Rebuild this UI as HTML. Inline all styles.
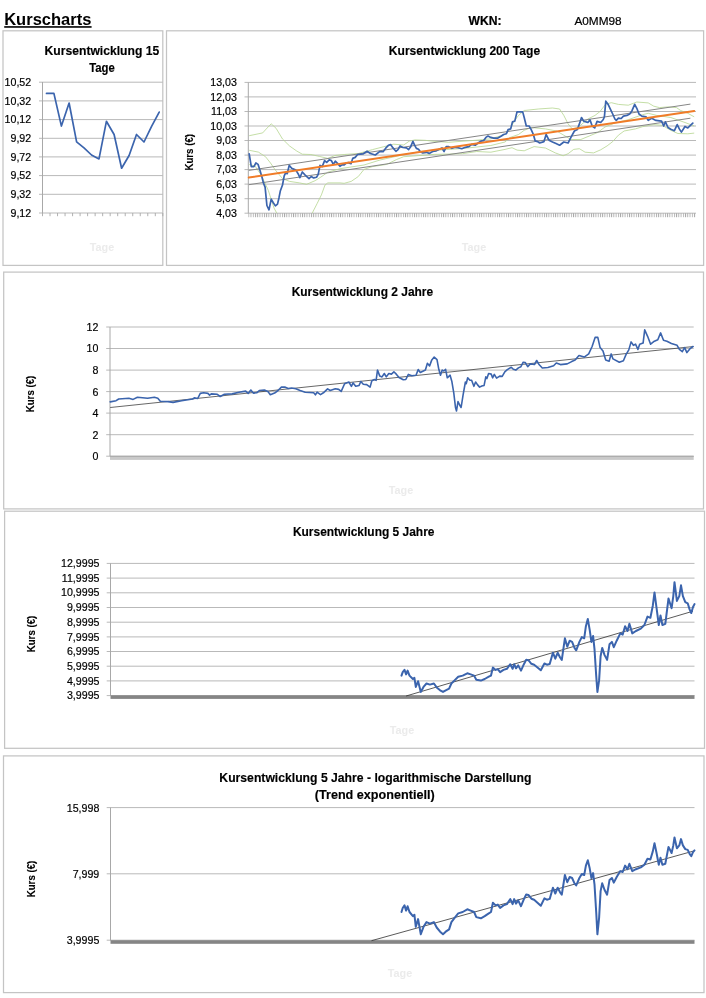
<!DOCTYPE html>
<html><head><meta charset="utf-8"><title>Kurscharts</title>
<style>html,body{margin:0;padding:0;background:#fff}body{width:706px;height:998px;overflow:hidden;font-family:"Liberation Sans",sans-serif}svg{display:block;opacity:0.999}text{font-family:"Liberation Sans",sans-serif;fill:#000}.b{font-weight:bold}.t{font-weight:bold;font-size:12.5px;text-anchor:middle;stroke:#000;stroke-width:0.15px}.l{font-size:10.65px;text-anchor:end;stroke:#000;stroke-width:0.18px}.k{font-weight:bold;font-size:10.7px;text-anchor:middle;stroke:#000;stroke-width:0.12px}.g{font-weight:bold;font-size:10.8px;text-anchor:middle;fill:#ebebeb;filter:url(#bl)}</style></head><body>
<svg width="706" height="998" viewBox="0 0 706 998">
<rect width="706" height="998" fill="#fff"/>
<defs><filter id="bl" x="-20%" y="-50%" width="140%" height="200%"><feGaussianBlur stdDeviation="0.45"/></filter></defs>
<text class="b" x="4.2" y="25.15" font-size="16.5" textLength="87.2" lengthAdjust="spacingAndGlyphs">Kurscharts</text>
<rect x="4.2" y="26.15" width="87.4" height="1.6" fill="#000"/>
<text class="b" x="468.5" y="24.9" font-size="12" textLength="33" lengthAdjust="spacingAndGlyphs" stroke="#000" stroke-width="0.2">WKN:</text>
<text x="574.4" y="24.9" font-size="11.8" stroke="#000" stroke-width="0.2">A0MM98</text>
<rect x="3.0" y="30.8" width="159.8" height="234.6" fill="none" stroke="#c4c4c4" stroke-width="1.25"/>
<rect x="166.5" y="30.8" width="537.1" height="234.6" fill="none" stroke="#c4c4c4" stroke-width="1.25"/>
<rect x="3.7" y="272.1" width="699.8" height="236.8" fill="none" stroke="#c4c4c4" stroke-width="1.25"/>
<rect x="4.6" y="511.2" width="699.9" height="237.1" fill="none" stroke="#c4c4c4" stroke-width="1.25"/>
<rect x="3.5" y="755.9" width="700.5" height="236.7" fill="none" stroke="#c4c4c4" stroke-width="1.25"/>
<line x1="39.0" y1="82.2" x2="162.8" y2="82.2" stroke="#b9b9b9" stroke-width="1"/>
<line x1="39.0" y1="100.9" x2="162.8" y2="100.9" stroke="#b9b9b9" stroke-width="1"/>
<line x1="39.0" y1="119.6" x2="162.8" y2="119.6" stroke="#b9b9b9" stroke-width="1"/>
<line x1="39.0" y1="138.3" x2="162.8" y2="138.3" stroke="#b9b9b9" stroke-width="1"/>
<line x1="39.0" y1="156.9" x2="162.8" y2="156.9" stroke="#b9b9b9" stroke-width="1"/>
<line x1="39.0" y1="175.6" x2="162.8" y2="175.6" stroke="#b9b9b9" stroke-width="1"/>
<line x1="39.0" y1="194.3" x2="162.8" y2="194.3" stroke="#b9b9b9" stroke-width="1"/>
<line x1="39.0" y1="213.0" x2="162.8" y2="213.0" stroke="#b9b9b9" stroke-width="1"/>
<line x1="42.5" y1="82" x2="42.5" y2="213" stroke="#a8a8a8" stroke-width="1"/>
<path d="M42.50 213V216.2M50.02 213V216.2M57.54 213V216.2M65.06 213V216.2M72.58 213V216.2M80.10 213V216.2M87.62 213V216.2M95.14 213V216.2M102.66 213V216.2M110.18 213V216.2M117.70 213V216.2M125.22 213V216.2M132.74 213V216.2M140.26 213V216.2M147.78 213V216.2M155.30 213V216.2M162.82 213V216.2" stroke="#a8a8a8" stroke-width="0.9" fill="none"/>
<text class="l" x="31.2" y="85.8">10,52</text>
<text class="l" x="31.2" y="104.5">10,32</text>
<text class="l" x="31.2" y="123.2">10,12</text>
<text class="l" x="31.2" y="141.9">9,92</text>
<text class="l" x="31.2" y="160.5">9,72</text>
<text class="l" x="31.2" y="179.2">9,52</text>
<text class="l" x="31.2" y="197.9">9,32</text>
<text class="l" x="31.2" y="216.6">9,12</text>
<text class="t" x="101.9" y="55.0" textLength="114.7" lengthAdjust="spacingAndGlyphs">Kursentwicklung 15</text>
<text class="t" x="102" y="72.0" textLength="25.6" lengthAdjust="spacingAndGlyphs">Tage</text>
<polyline points="46.5,93.4 53.9,93.4 61.4,126.1 69.1,103.0 76.6,141.8 84.0,147.8 91.5,155.0 99.0,158.9 106.4,121.3 114.1,134.5 121.6,168.2 129.1,155.5 136.5,134.5 144.0,142.0 151.7,126.1 159.2,112.1" fill="none" stroke="#3b64ad" stroke-width="1.7" stroke-linejoin="round" stroke-linecap="round"/>
<text class="g" x="102" y="251.0">Tage</text>
<line x1="244.5" y1="82.4" x2="696.0" y2="82.4" stroke="#b9b9b9" stroke-width="1"/>
<line x1="244.5" y1="96.9" x2="696.0" y2="96.9" stroke="#b9b9b9" stroke-width="1"/>
<line x1="244.5" y1="111.5" x2="696.0" y2="111.5" stroke="#b9b9b9" stroke-width="1"/>
<line x1="244.5" y1="126.0" x2="696.0" y2="126.0" stroke="#b9b9b9" stroke-width="1"/>
<line x1="244.5" y1="140.5" x2="696.0" y2="140.5" stroke="#b9b9b9" stroke-width="1"/>
<line x1="244.5" y1="155.1" x2="696.0" y2="155.1" stroke="#b9b9b9" stroke-width="1"/>
<line x1="244.5" y1="169.6" x2="696.0" y2="169.6" stroke="#b9b9b9" stroke-width="1"/>
<line x1="244.5" y1="184.1" x2="696.0" y2="184.1" stroke="#b9b9b9" stroke-width="1"/>
<line x1="244.5" y1="198.7" x2="696.0" y2="198.7" stroke="#b9b9b9" stroke-width="1"/>
<line x1="244.5" y1="213.2" x2="696.0" y2="213.2" stroke="#b9b9b9" stroke-width="1"/>
<line x1="248.3" y1="82.4" x2="248.3" y2="213.2" stroke="#a8a8a8" stroke-width="1"/>
<defs><pattern id="tk2" x="248.3" y="0" width="2.24" height="4" patternUnits="userSpaceOnUse"><rect x="0" y="0" width="0.9" height="4" fill="#a8a8a8"/></pattern>
<pattern id="tk3" x="110" y="0" width="1.17" height="4" patternUnits="userSpaceOnUse"><rect x="0" y="0" width="0.6" height="4" fill="#9c9c9c"/></pattern>
<clipPath id="cp2"><rect x="248.3" y="82.4" width="447.7" height="130.8"/></clipPath></defs>
<rect x="248.3" y="213.2" width="447.7" height="4" fill="url(#tk2)"/>
<text class="l" x="236.9" y="86.0">13,03</text>
<text class="l" x="236.9" y="100.5">12,03</text>
<text class="l" x="236.9" y="115.1">11,03</text>
<text class="l" x="236.9" y="129.6">10,03</text>
<text class="l" x="236.9" y="144.1">9,03</text>
<text class="l" x="236.9" y="158.7">8,03</text>
<text class="l" x="236.9" y="173.2">7,03</text>
<text class="l" x="236.9" y="187.7">6,03</text>
<text class="l" x="236.9" y="202.3">5,03</text>
<text class="l" x="236.9" y="216.8">4,03</text>
<text class="k" transform="translate(192.8,152.3) rotate(-90)" textLength="36.6" lengthAdjust="spacingAndGlyphs">Kurs (€)</text>
<text class="t" x="464.5" y="55.0" textLength="151.3" lengthAdjust="spacingAndGlyphs">Kursentwicklung 200 Tage</text>
<g clip-path="url(#cp2)" fill="none" stroke-linejoin="round">
<polyline points="249.2,135.7 262.7,132.9 266.2,129.0 271.2,123.8 276.1,128.3 282.5,139.0 289.6,146.0 296.7,151.0 302.3,154.2 310.8,154.5 319.3,156.4 327.8,158.4 335.0,155.5 344.2,154.5 358.3,153.5 372.5,149.6 383.8,146.7 393.7,144.2 403.7,145.0 409.3,141.1 415.0,139.9 425.0,140.3 434.0,141.3 448.3,142.3 476.7,140.2 490.8,138.8 505.0,134.5 510.0,129.5 514.2,121.1 518.5,115.4 524.2,110.5 538.3,109.0 552.5,108.0 559.6,109.0 563.8,115.4 568.1,123.9 572.3,128.9 578.0,127.5 587.9,119.0 595.0,115.4 600.0,111.5 605.7,104.1 611.3,102.7 618.4,104.4 628.3,105.2 636.8,102.0 648.2,102.9 653.8,106.2 659.5,107.6 668.0,106.9 676.5,107.6 680.7,110.5 687.8,113.3 694.2,116.8" stroke="#b5d68f" stroke-width="0.8"/>
<polyline points="249.2,150.3 258.4,152.1 265.5,156.7 270.5,163.0 275.4,170.1 282.5,178.6 289.6,181.4 299.5,182.9 306.6,184.3 315.1,180.7 320.7,177.2 327.8,172.2 340.0,168.7 364.0,165.0 380.0,160.0 400.0,155.5 420.0,151.5 440.0,150.0 462.5,148.5 476.7,147.0 490.8,145.5 505.0,142.0 510.0,137.5 518.5,134.5 524.2,130.3 531.2,127.5 545.4,128.9 556.7,131.0 563.8,135.2 570.9,139.5 580.8,139.5 589.3,136.0 597.8,132.4 605.0,127.0 614.2,123.2 628.3,119.7 642.5,114.7 648.2,113.3 656.7,115.4 670.8,117.5 685.0,122.5 694.2,126.0" stroke="#b5d68f" stroke-width="0.8"/>
<polyline points="249.2,164.5 255.0,166.0 261.2,175.0 268.3,190.4 274.0,208.0 276.8,213.2" stroke="#b5d68f" stroke-width="0.8"/>
<polyline points="312.2,213.2 317.2,203.4 321.4,194.9 325.0,185.0 327.8,182.9 340.0,182.9 344.2,183.3 351.2,181.4 358.3,176.5 364.0,169.4 372.5,166.6 386.7,164.4 396.6,159.5 403.7,156.7 415.0,155.9 425.0,155.1 434.2,154.4 462.5,153.7 476.7,151.5 490.8,152.2 505.0,149.4 512.0,147.7 517.1,150.1 524.2,150.8 534.1,146.6 545.4,148.0 555.3,152.9 563.1,155.8 568.1,153.7 573.7,149.4 579.4,148.7 585.1,152.2 593.6,152.9 600.7,149.8 607.1,145.9 612.7,141.6 618.4,135.2 624.1,131.0 635.4,128.9 642.5,126.7 653.8,124.6 662.3,125.3 670.8,130.3 677.9,133.5 687.8,133.8 694.2,133.1" stroke="#b5d68f" stroke-width="0.8"/>
</g>
<polyline points="248.8,170.4 690.4,104.1" fill="none" stroke="#868686" stroke-width="1"/>
<polyline points="248.8,184.7 690.4,118.2" fill="none" stroke="#868686" stroke-width="1"/>
<polyline points="249.2,153.8 251.3,166.6 253.9,166.6 255.9,163.0 258.1,164.4 260.1,170.8 262.0,177.2 263.4,182.9 265.1,187.1 266.9,205.5 269.0,209.8 271.2,199.2 273.3,202.7 275.4,205.9 277.5,204.1 279.0,197.7 280.4,190.7 282.5,185.0 284.2,175.8 285.6,172.9 287.2,173.7 289.2,165.4 291.7,168.3 295.9,170.1 298.1,173.7 299.9,177.6 302.3,172.0 305.2,175.1 309.0,178.6 311.2,176.5 313.7,177.9 316.5,177.2 318.2,174.4 320.0,165.4 322.2,166.6 324.6,160.6 326.7,162.3 329.2,159.8 331.4,160.6 333.3,164.4 335.3,161.2 337.5,163.3 339.9,166.3 342.0,164.9 344.2,164.9 346.3,163.0 348.4,162.6 351.0,163.7 352.7,158.4 355.2,157.4 357.6,154.5 360.5,154.2 363.3,153.8 367.1,151.3 370.4,153.5 375.3,155.0 379.6,151.7 383.1,151.7 385.9,147.9 388.4,145.3 390.6,144.6 393.0,147.9 395.9,151.3 398.0,149.6 400.1,146.0 402.9,147.5 406.5,147.9 408.6,149.6 410.7,146.7 412.9,141.4 414.7,145.3 416.4,148.4 418.5,149.3 420.4,151.8 422.8,152.9 426.4,152.3 429.2,153.4 432.7,151.5 436.3,150.8 439.8,149.1 442.0,148.0 444.1,151.5 446.2,146.6 448.3,146.6 451.9,148.3 455.4,147.3 458.2,147.7 461.8,148.7 465.3,147.3 468.9,146.6 471.7,144.4 475.2,145.2 478.1,143.0 480.9,141.2 483.7,140.6 485.9,137.4 488.0,136.0 490.8,137.4 493.7,138.1 497.9,138.1 501.4,136.0 503.6,134.5 506.4,133.8 508.1,129.6 510.7,128.9 512.5,121.8 514.8,121.1 517.0,111.9 522.7,111.9 524.2,117.5 526.3,126.0 529.1,126.0 531.2,129.6 533.4,134.5 535.2,140.9 537.6,141.6 539.7,143.0 544.0,141.6 546.1,134.5 549.0,140.2 552.5,142.0 556.0,143.5 559.6,145.2 563.8,142.0 568.1,143.0 570.9,137.4 574.4,131.0 577.3,129.6 579.4,123.9 581.5,117.5 583.7,121.1 587.9,122.5 590.0,119.9 592.2,126.0 594.7,127.9 597.1,121.4 600.7,122.5 603.3,119.5 604.4,116.8 605.8,101.2 608.0,104.2 610.6,109.7 612.7,114.0 614.9,119.0 616.3,120.4 618.4,118.2 621.2,118.5 623.4,116.1 626.9,115.4 629.7,114.0 631.9,110.9 634.7,104.4 636.8,108.3 639.0,114.0 641.8,116.1 646.0,116.8 648.2,120.4 651.7,118.2 655.9,120.4 661.6,121.1 663.7,126.0 665.4,121.8 668.0,127.5 670.8,129.3 674.4,130.7 677.2,124.6 679.3,128.9 681.4,132.1 685.0,126.5 687.8,127.9 692.8,123.2" fill="none" stroke="#3b64ad" stroke-width="1.7" stroke-linejoin="round" stroke-linecap="round"/>
<polyline points="248.8,177.5 694.2,110.9" fill="none" stroke="#f07c28" stroke-width="2" stroke-linecap="round"/>
<text class="g" x="474" y="251.0">Tage</text>
<line x1="106.2" y1="327.0" x2="693.7" y2="327.0" stroke="#b9b9b9" stroke-width="1"/>
<line x1="106.2" y1="348.5" x2="693.7" y2="348.5" stroke="#b9b9b9" stroke-width="1"/>
<line x1="106.2" y1="370.1" x2="693.7" y2="370.1" stroke="#b9b9b9" stroke-width="1"/>
<line x1="106.2" y1="391.6" x2="693.7" y2="391.6" stroke="#b9b9b9" stroke-width="1"/>
<line x1="106.2" y1="413.1" x2="693.7" y2="413.1" stroke="#b9b9b9" stroke-width="1"/>
<line x1="106.2" y1="434.7" x2="693.7" y2="434.7" stroke="#b9b9b9" stroke-width="1"/>
<line x1="106.2" y1="456.2" x2="693.7" y2="456.2" stroke="#b9b9b9" stroke-width="1"/>
<line x1="110" y1="327" x2="110" y2="456.2" stroke="#a8a8a8" stroke-width="1"/>
<rect x="110" y="456.2" width="583.7" height="3.7" fill="#c9c9c9"/>
<rect x="110" y="455.8" width="583.7" height="1" fill="#a6a6a6"/>
<text class="l" x="98.4" y="330.9">12</text>
<text class="l" x="98.4" y="352.4">10</text>
<text class="l" x="98.4" y="374.0">8</text>
<text class="l" x="98.4" y="395.5">6</text>
<text class="l" x="98.4" y="417.0">4</text>
<text class="l" x="98.4" y="438.6">2</text>
<text class="l" x="98.4" y="460.1">0</text>
<text class="k" transform="translate(34.2,394.0) rotate(-90)" textLength="36.6" lengthAdjust="spacingAndGlyphs">Kurs (€)</text>
<text class="t" x="362.4" y="296.0" textLength="141.5" lengthAdjust="spacingAndGlyphs">Kursentwicklung 2 Jahre</text>
<polyline points="110.2,407.5 693.5,346.5" fill="none" stroke="#404040" stroke-width="0.8"/>
<polyline points="110.2,401.9 116.1,400.7 118.7,399.0 128.9,398.2 133.1,399.4 137.4,397.3 147.6,398.2 154.4,397.3 157.8,398.2 160.3,401.2 168.0,401.6 173.1,402.4 181.6,400.7 192.6,399.0 194.3,397.9 197.7,398.5 200.3,393.4 203.7,392.8 207.9,393.4 209.6,395.1 211.3,393.9 217.3,394.3 220.2,396.5 224.4,394.3 232.1,393.9 238.9,392.2 245.7,391.1 248.2,393.4 250.8,390.0 253.3,393.1 256.7,392.8 259.3,390.5 264.4,390.0 267.8,391.4 270.3,394.8 274.6,393.1 278.0,390.5 281.4,387.1 284.8,387.1 288.2,388.5 291.6,388.0 295.8,388.8 300.1,390.5 305.2,392.2 313.7,392.8 315.4,394.8 317.1,392.2 320.5,394.6 323.4,392.8 327.6,388.8 330.2,390.5 335.3,388.8 338.7,389.4 341.2,391.4 344.6,383.7 348.9,382.0 351.4,386.3 353.1,382.9 355.7,386.3 359.1,385.4 360.8,381.5 363.3,384.3 366.7,384.6 370.1,387.1 371.8,380.9 374.4,379.5 376.1,380.3 377.5,370.1 379.8,376.1 382.0,376.9 384.3,373.5 386.3,376.9 388.8,373.5 391.4,374.1 393.9,371.8 396.5,374.4 399.0,377.5 403.3,379.8 405.8,379.5 408.4,374.4 411.8,375.8 416.0,375.2 418.2,369.6 420.3,372.4 425.4,370.1 427.4,363.3 429.6,365.9 431.8,359.9 434.2,357.1 437.0,359.6 438.8,369.3 440.5,375.2 442.2,370.1 443.9,371.0 445.6,369.3 447.3,377.8 450.1,375.2 451.8,381.2 453.8,393.1 455.5,407.5 456.5,410.9 458.0,401.6 459.7,405.0 461.1,407.5 463.1,394.8 465.4,382.0 466.2,383.7 467.7,377.8 469.9,380.3 471.6,380.3 473.9,386.3 475.6,382.0 477.6,384.9 479.6,387.1 481.8,386.0 484.1,385.4 485.8,376.9 486.9,378.6 488.6,373.5 491.2,374.1 492.6,377.8 494.3,374.4 496.6,378.1 499.7,376.1 502.2,376.4 504.8,371.8 507.3,369.6 511.3,367.3 513.3,369.3 515.8,370.1 518.4,367.9 520.9,366.7 523.2,362.2 525.2,362.5 527.7,366.7 530.3,363.9 534.5,364.5 536.7,360.5 538.8,364.2 542.3,368.0 547.9,367.5 553.6,365.7 556.3,363.0 560.4,364.6 567.2,363.9 571.7,361.6 575.1,360.1 579.0,355.5 584.2,357.1 588.7,353.9 592.1,346.5 595.1,337.4 597.8,337.4 600.1,347.6 603.0,351.0 605.7,360.1 609.1,361.2 611.2,353.9 613.0,358.9 619.3,362.3 623.4,360.7 626.1,354.4 628.8,349.9 631.1,341.9 633.4,345.3 635.6,344.2 637.9,349.4 639.7,344.2 643.1,343.1 644.7,329.9 647.6,336.3 650.6,344.2 654.4,341.2 657.8,339.7 660.6,332.9 663.5,340.3 666.9,341.2 671.4,343.5 677.1,345.3 679.4,349.4 682.3,351.7 684.6,347.6 686.9,352.6 690.0,348.7 693.0,346.5" fill="none" stroke="#3b64ad" stroke-width="1.6" stroke-linejoin="round" stroke-linecap="round"/>
<text class="g" x="401" y="494.0">Tage</text>
<line x1="106.7" y1="563.4" x2="694.5" y2="563.4" stroke="#b9b9b9" stroke-width="1"/>
<line x1="106.7" y1="578.1" x2="694.5" y2="578.1" stroke="#b9b9b9" stroke-width="1"/>
<line x1="106.7" y1="592.8" x2="694.5" y2="592.8" stroke="#b9b9b9" stroke-width="1"/>
<line x1="106.7" y1="607.5" x2="694.5" y2="607.5" stroke="#b9b9b9" stroke-width="1"/>
<line x1="106.7" y1="622.2" x2="694.5" y2="622.2" stroke="#b9b9b9" stroke-width="1"/>
<line x1="106.7" y1="636.9" x2="694.5" y2="636.9" stroke="#b9b9b9" stroke-width="1"/>
<line x1="106.7" y1="651.5" x2="694.5" y2="651.5" stroke="#b9b9b9" stroke-width="1"/>
<line x1="106.7" y1="666.2" x2="694.5" y2="666.2" stroke="#b9b9b9" stroke-width="1"/>
<line x1="106.7" y1="680.9" x2="694.5" y2="680.9" stroke="#b9b9b9" stroke-width="1"/>
<line x1="106.7" y1="695.6" x2="694.5" y2="695.6" stroke="#b9b9b9" stroke-width="1"/>
<line x1="110.5" y1="563.4" x2="110.5" y2="695.6" stroke="#a8a8a8" stroke-width="1"/>
<rect x="110.5" y="695.3" width="584" height="3.6" fill="#858585"/>
<text class="l" x="99.5" y="567.0">12,9995</text>
<text class="l" x="99.5" y="581.7">11,9995</text>
<text class="l" x="99.5" y="596.4">10,9995</text>
<text class="l" x="99.5" y="611.1">9,9995</text>
<text class="l" x="99.5" y="625.8">8,9995</text>
<text class="l" x="99.5" y="640.5">7,9995</text>
<text class="l" x="99.5" y="655.1">6,9995</text>
<text class="l" x="99.5" y="669.8">5,9995</text>
<text class="l" x="99.5" y="684.5">4,9995</text>
<text class="l" x="99.5" y="699.2">3,9995</text>
<text class="k" transform="translate(34.9,634.0) rotate(-90)" textLength="36.6" lengthAdjust="spacingAndGlyphs">Kurs (€)</text>
<text class="t" x="363.7" y="535.5" textLength="141.6" lengthAdjust="spacingAndGlyphs">Kursentwicklung 5 Jahre</text>
<polyline points="406.1,696.0 693.0,611.2" fill="none" stroke="#303030" stroke-width="0.8"/>
<polyline points="401.5,675.6 402.7,672.2 404.5,669.9 406.1,674.4 407.6,670.6 409.5,675.6 412.9,679.0 414.4,677.8 415.8,686.9 418.1,681.2 420.8,691.9 423.5,686.9 426.5,683.5 429.9,684.6 433.9,683.5 436.7,687.4 440.1,690.3 443.0,691.9 445.7,690.3 449.1,688.7 451.4,683.5 454.8,680.1 458.2,676.7 462.7,675.6 467.3,673.3 470.7,674.4 474.1,675.6 476.3,679.7 480.9,680.6 484.7,679.0 488.8,676.7 491.0,675.6 492.9,667.6 495.6,669.9 497.8,669.2 500.1,672.2 503.5,669.9 506.9,668.8 510.3,664.2 512.6,668.8 514.2,664.2 516.0,668.3 518.2,665.4 521.0,670.6 523.9,664.2 526.2,659.7 528.4,660.2 531.4,663.8 534.1,664.7 537.2,667.2 540.8,670.3 544.4,663.5 546.9,664.7 549.7,664.0 552.9,652.7 555.3,658.7 557.7,652.7 560.1,657.5 561.8,659.9 564.9,638.3 567.3,646.7 569.7,640.7 572.1,641.9 574.5,647.9 576.2,650.3 579.4,641.9 581.8,637.1 584.2,638.3 585.9,626.2 587.8,619.0 589.7,629.8 591.4,641.9 593.1,635.9 594.5,649.1 596.2,675.6 597.4,692.0 599.1,680.4 600.6,656.3 602.2,647.9 604.6,655.1 607.1,659.9 609.5,644.3 611.9,641.9 613.8,647.2 616.7,640.7 620.3,633.4 622.7,634.6 625.1,626.2 627.5,631.0 629.4,623.8 632.3,633.4 635.9,631.0 640.8,628.6 644.4,625.0 647.5,616.6 650.4,617.8 652.8,605.7 654.5,592.5 656.4,606.9 658.8,625.0 660.5,615.4 662.4,625.0 665.3,623.8 668.5,598.5 671.6,608.2 673.3,596.1 674.5,582.2 676.9,600.9 679.3,596.1 681.0,585.3 682.9,596.1 685.3,602.1 687.7,603.3 689.6,609.4 691.3,613.0 693.0,607.0 694.5,604.1" fill="none" stroke="#3b64ad" stroke-width="2.0" stroke-linejoin="round" stroke-linecap="round"/>
<text class="g" x="402" y="733.5">Tage</text>
<line x1="106.7" y1="807.6" x2="694.5" y2="807.6" stroke="#b9b9b9" stroke-width="1"/>
<line x1="106.7" y1="873.8" x2="694.5" y2="873.8" stroke="#b9b9b9" stroke-width="1"/>
<line x1="106.7" y1="940.2" x2="694.5" y2="940.2" stroke="#b9b9b9" stroke-width="1"/>
<line x1="110.5" y1="807.6" x2="110.5" y2="940.4" stroke="#a8a8a8" stroke-width="1"/>
<rect x="110.5" y="940.2" width="584" height="3.6" fill="#858585"/>
<text class="l" x="99.3" y="811.5">15,998</text>
<text class="l" x="99.3" y="877.7">7,999</text>
<text class="l" x="99.3" y="944.1">3,9995</text>
<text class="k" transform="translate(34.9,879.0) rotate(-90)" textLength="36.6" lengthAdjust="spacingAndGlyphs">Kurs (€)</text>
<text class="t" x="375.4" y="782.4" textLength="312.1" lengthAdjust="spacingAndGlyphs">Kursentwicklung 5 Jahre - logarithmische Darstellung</text>
<text class="t" x="374.7" y="799.2" textLength="119.9" lengthAdjust="spacingAndGlyphs">(Trend exponentiell)</text>
<polyline points="371.5,940.7 693.7,851.0" fill="none" stroke="#303030" stroke-width="0.8"/>
<polyline points="401.5,912.0 402.7,908.0 404.5,905.4 406.1,910.6 407.6,906.2 409.5,912.0 412.9,916.2 414.4,914.7 415.8,926.8 418.1,919.1 420.8,934.2 423.5,926.8 426.5,922.1 429.9,923.6 433.9,922.1 436.7,927.5 440.1,931.7 443.0,934.2 445.7,931.7 449.1,929.4 451.4,922.1 454.8,917.6 458.2,913.4 462.7,912.0 467.3,909.3 470.7,910.6 474.1,912.0 476.3,917.1 480.9,918.3 484.7,916.2 488.8,913.4 491.0,912.0 492.9,902.8 495.6,905.4 497.8,904.6 500.1,908.0 503.5,905.4 506.9,904.1 510.3,899.1 512.6,904.1 514.2,899.1 516.0,903.6 518.2,900.4 521.0,906.2 523.9,899.1 526.2,894.5 528.4,895.0 531.4,898.7 534.1,899.7 537.2,902.4 540.8,905.8 544.4,898.4 546.9,899.7 549.7,898.9 552.9,887.7 555.3,893.5 557.7,887.7 560.1,892.3 561.8,894.7 564.9,875.0 567.3,882.2 569.7,877.0 572.1,878.0 574.5,883.3 576.2,885.4 579.4,878.0 581.8,874.0 584.2,875.0 585.9,865.6 587.8,860.3 589.7,868.3 591.4,878.0 593.1,873.1 594.5,884.4 596.2,912.0 597.4,934.3 599.1,918.0 600.6,891.1 602.2,883.3 604.6,890.0 607.1,894.7 609.5,880.1 611.9,878.0 613.8,882.6 616.7,877.0 620.3,871.1 622.7,872.0 625.1,865.6 627.5,869.2 629.4,863.8 632.3,871.1 635.9,869.2 640.8,867.4 644.4,864.7 647.5,858.7 650.4,859.5 652.8,851.4 654.5,843.3 656.4,852.2 658.8,864.7 660.5,857.8 662.4,864.7 665.3,863.8 668.5,846.9 671.6,853.0 673.3,845.4 674.5,837.4 676.9,848.3 679.3,845.4 681.0,839.1 682.9,845.4 685.3,849.1 687.7,849.9 689.6,853.8 691.3,856.2 693.0,852.2 694.5,850.4" fill="none" stroke="#3b64ad" stroke-width="2.0" stroke-linejoin="round" stroke-linecap="round"/>
<text class="g" x="400" y="977.0">Tage</text>
</svg></body></html>
